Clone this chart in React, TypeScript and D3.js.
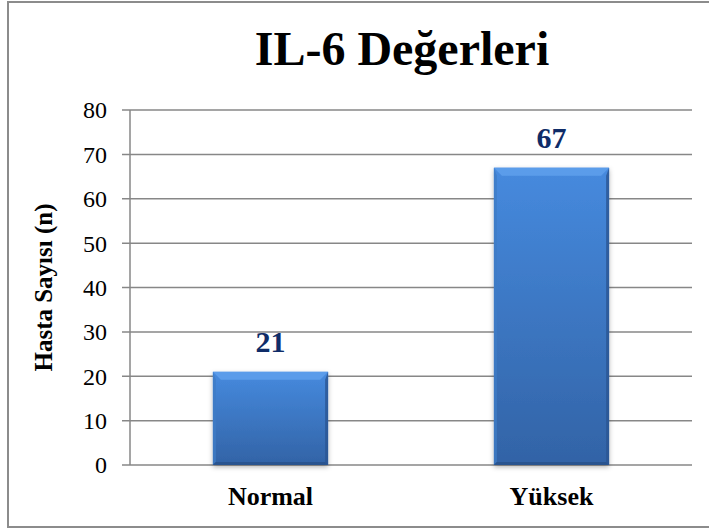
import * as d3 from 'd3'

const categories = ['Normal', 'Yüksek']
const counts = [21, 67]
const yTicks = [0, 10, 20, 30, 40, 50, 60, 70, 80]

const W = 709
const H = 529
const plot = { left: 130, right: 692, top: 110, bottom: 465 }
const serif = '"Liberation Serif", "Times New Roman", serif'

export default function App() {
    const x = d3.scaleBand<string>()
                .domain(categories)
                .range([plot.left, plot.right])
                .padding(0)
    const y = d3.scaleLinear()
                .domain([0, 80])
                .range([plot.bottom, plot.top])

    const barW = x.bandwidth() * 0.41
    const bev = 8

    return (
        <svg width={W} height={H} style={{ position: 'absolute', left: 0, top: 0, background: '#fff' }}>
            <defs>
                <linearGradient id="barFill" x1="0" y1="0" x2="0" y2="1">
                    <stop offset="0%" stopColor="#468ade" />
                    <stop offset="100%" stopColor="#3263a6" />
                </linearGradient>
                <filter id="shadow" x="-20%" y="-20%" width="140%" height="140%">
                    <feDropShadow dx="0" dy="2" stdDeviation="2.5" floodColor="#000" floodOpacity="0.3" />
                </filter>
            </defs>
            <rect x={8} y={2} width={720} height={525} fill="none" stroke="#8c8c8c" strokeWidth={2} />

            <text x={402} y={65} textAnchor="middle" fontFamily={serif} fontWeight="bold" fontSize={48} fill="#000">
                IL-6 Değerleri
            </text>

            {yTicks.map(t => (
                <g key={t}>
                    <line x1={plot.left - 8} x2={plot.right} y1={y(t)} y2={y(t)} stroke="#878787" strokeWidth={1.5} />
                    <text x={107} y={y(t)} dy="0.35em" textAnchor="end" fontFamily={serif} fontSize={24} fill="#000">
                        {t}
                    </text>
                </g>
            ))}
            <line x1={plot.left} x2={plot.left} y1={plot.top} y2={plot.bottom} stroke="#878787" strokeWidth={1.5} />

            <text transform={`translate(52, ${(plot.top + plot.bottom) / 2}) rotate(-90)`} textAnchor="middle"
                  fontFamily={serif} fontWeight="bold" fontSize={25} fill="#000">
                Hasta Sayısı (n)
            </text>

            {categories.map((c, i) => {
                const cx = (x(c) as number) + x.bandwidth() / 2
                const x0 = cx - barW / 2
                const x1 = cx + barW / 2
                const y0 = y(counts[i])
                const y1 = y(0)
                return (
                    <g key={c}>
                        <rect x={x0} y={y0} width={barW} height={y1 - y0} fill="url(#barFill)" filter="url(#shadow)" />
                        <polygon points={`${x0},${y0} ${x1},${y0} ${x1 - bev},${y0 + bev} ${x0 + bev},${y0 + bev}`}
                                 fill="#5fa0ec" opacity={0.85} />
                        <polygon points={`${x0},${y0} ${x0 + 3},${y0 + bev} ${x0 + 3},${y1 - 3} ${x0},${y1}`}
                                 fill="#3f7cc6" opacity={0.8} />
                        <polygon points={`${x1},${y0} ${x1 - 3},${y0 + bev} ${x1 - 3},${y1 - 3} ${x1},${y1}`}
                                 fill="#2a5592" opacity={0.8} />
                        <polygon points={`${x0},${y1} ${x1},${y1} ${x1 - 3},${y1 - 3} ${x0 + 3},${y1 - 3}`}
                                 fill="#27508a" opacity={0.8} />
                        <text x={cx} y={y0 - 20} textAnchor="middle" fontFamily={serif} fontWeight="bold"
                              fontSize={30} fill="#0f2c68">
                            {counts[i]}
                        </text>
                        <text x={cx} y={505} textAnchor="middle" fontFamily={serif} fontWeight="bold"
                              fontSize={26} fill="#000">
                            {c}
                        </text>
                    </g>
                )
            })}
        </svg>
    )
}
